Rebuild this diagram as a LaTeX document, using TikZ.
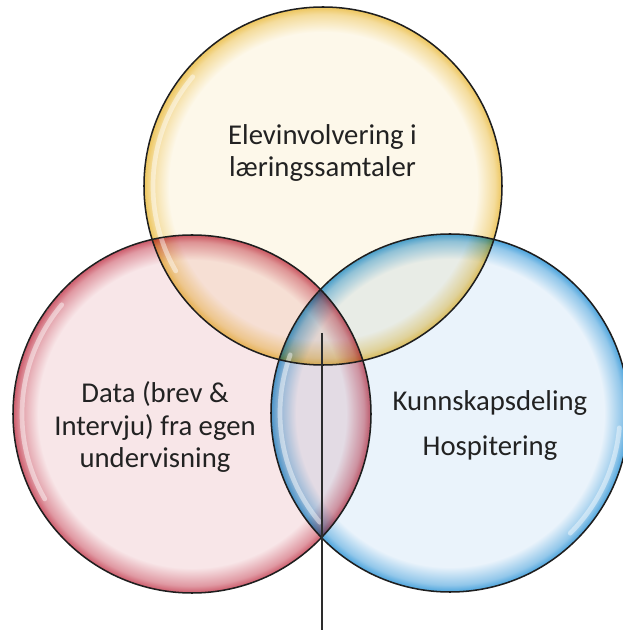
\documentclass[tikz,border=0pt]{standalone}
\usepackage{fontspec}
\setmainfont{Carlito}

\definecolor{ycore}{HTML}{FDF8EA}
\definecolor{yrim}{HTML}{EDC55C}
\definecolor{rcore}{HTML}{F8E6E8}
\definecolor{rrim}{HTML}{CC5A6A}
\definecolor{bcore}{HTML}{EAF3FB}
\definecolor{brim}{HTML}{4AA3DC}
\definecolor{outline}{HTML}{1E1E1E}
\definecolor{ink}{HTML}{222222}

\pgfdeclareradialshading{ybubble}{\pgfpoint{0bp}{0bp}}{color(0bp)=(ycore); color(21.5bp)=(ycore); color(24bp)=(yrim!55!ycore); color(25bp)=(yrim)}
\pgfdeclareradialshading{rbubble}{\pgfpoint{0bp}{0bp}}{color(0bp)=(rcore); color(21.5bp)=(rcore); color(24bp)=(rrim!55!rcore); color(25bp)=(rrim)}
\pgfdeclareradialshading{bbubble}{\pgfpoint{0bp}{0bp}}{color(0bp)=(bcore); color(21.5bp)=(bcore); color(24bp)=(brim!55!bcore); color(25bp)=(brim)}

\begin{document}
\begin{tikzpicture}[x=0.03cm, y=0.03cm,
	rim/.style={draw=outline, line width=1.3pt},
	gloss/.style={white, line width=4pt, opacity=0.45, line cap=round},
	bubbletext/.style={text=ink, align=center, font=\fontsize{24.5}{27.5}\selectfont}]
	\useasboundingbox (0,0) rectangle (623,630);

	\coordinate (yc) at (323,444);
	\coordinate (rc) at (192,216);
	\coordinate (bc) at (450,217);

	% coloured bubbles, mixed where they overlap
	\begin{scope}[blend group=multiply]
		\shade[shading=ybubble] (yc) circle [radius=179];
		\shade[shading=rbubble] (rc) circle [radius=179];
		\shade[shading=bbubble] (bc) circle [radius=179];
	\end{scope}

	% glossy highlights
	\draw[gloss] (yc) ++(140:170) arc [start angle=140, end angle=210, radius=170];
	\draw[gloss] (rc) ++(140:170) arc [start angle=140, end angle=210, radius=170];
	\draw[gloss] (bc) ++(160:170) arc [start angle=160, end angle=220, radius=170];
	\draw[gloss] (bc) ++(-5:170) arc [start angle=-5, end angle=-45, radius=170];

	\draw[rim] (yc) circle [radius=179];
	\draw[rim] (rc) circle [radius=179];
	\draw[rim] (bc) circle [radius=179];

	\coordinate (split) at (322,297);
	\coordinate (foot) at (322,0);
	\draw[gray!35!black, line width=0.9pt] (split) -- (foot);

	\node[bubbletext] (elev) at (322.5,477) {Elevinvolvering i\\læringssamtaler};
	\node[bubbletext] (data) at (155,203) {Data (brev \&\\Intervju) fra egen\\undervisning};
	\node[bubbletext, font=\fontsize{24.5}{38}\selectfont] (deling) at (490,204.5) {Kunnskapsdeling\\Hospitering};
\end{tikzpicture}
\end{document}
